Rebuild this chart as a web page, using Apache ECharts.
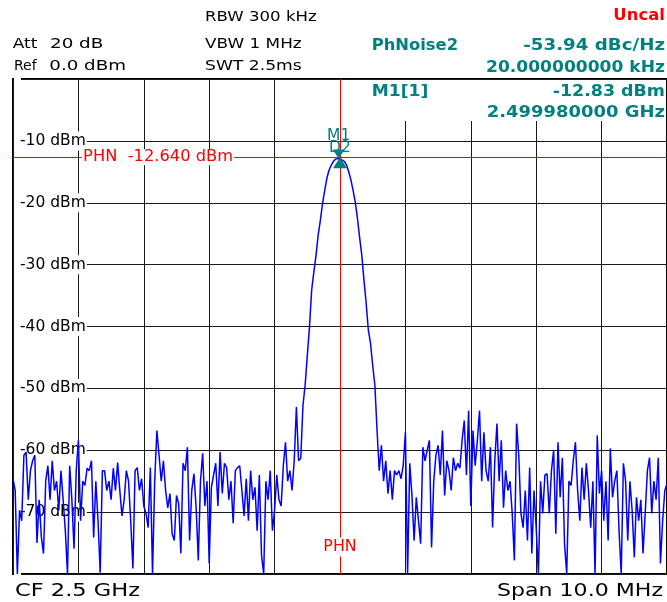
<!DOCTYPE html>
<html>
<head>
<meta charset="utf-8">
<script src="https://cdn.jsdelivr.net/npm/echarts@6/dist/echarts.min.js"></script>
<style>
  html, body { margin: 0; padding: 0; background: #fff; }
  #chart { width: 667px; height: 602px; }
</style>
</head>
<body>
<div id="chart"></div>
<script>
// Sweep settings: 10 MHz span centred on 2.5 GHz, frequencies in MHz
const SWEEP_START_MHZ = 2495;
const SWEEP_STOP_MHZ = 2505;

// Trace levels in dBm, one per sweep point (301 points across the span)
const levels = [
  -64.6, -66.5, -80, -69.7, -71.4,   -60.8, -60.3, -68, -63.3, -61.7,
  -60.8, -75, -68, -74, -76.7,       -65, -62.5, -68, -61.7, -66.5,
  -65, -69.7, -63.3, -68, -73,       -80, -62.5, -68, -75.9, -63.3,
  -58.4, -71.4, -65, -65.7, -62.9,   -63.3, -61.7, -74.1, -65, -71.4,
  -79.8, -63.3, -63.3, -66.5, -65,   -68, -62.9, -66.5, -62, -66.5,
  -70.6, -68, -63.3, -65, -71.4,     -79.1, -63.3, -62.8, -66.5, -64.6,
  -69, -70.2, -72.5, -62.8, -80,     -65, -56.8, -60.8, -65, -61.7,
  -66.5, -69.3, -67, -73.5, -74.6,   -67.3, -68.6, -76.7, -62.1, -63.3,
  -59.5, -74.6, -66.5, -63.8, -69.3, -77.8, -65, -60.5, -69, -65,
  -78.3, -66, -64, -62.1, -69,       -60.3, -67, -62.1, -62.8, -68,
  -65, -71.8, -63.3, -62.8, -62.5,   -66.5, -70.6, -64.6, -71.4, -63.3,
  -68, -66, -73, -64, -77,           -80, -65, -68, -63.3, -73,
  -69.7, -64, -68, -69, -62.5,       -58.7, -65, -63.3, -66.5, -61.7,
  -53, -61.7, -61.3, -52.8, -49.5,   -44.7, -40.1, -34.1, -31.2, -28.5,
  -25.2, -22.8, -20.1, -18, -16,     -14.7, -13.9, -13.3, -12.95, -12.87,
  -12.83, -13.1, -13.3, -13.9, -15,  -16.3, -18, -19.9, -22.5, -25.6,
  -28.5, -32.5, -36.2, -40.6, -42.7, -46.3, -49.5, -56.8, -63.3, -59.2,
  -65, -61.7, -67, -63.3, -68,       -63.3, -64, -63.3, -64.6, -62.5,
  -57.1, -80, -62.1, -67.3, -74.6,   -67.6, -71.4, -75.1, -59.5, -61.7,
  -60, -58.4, -75.7, -65, -60.8,     -59.2, -64, -56.8, -67.3, -61.7,
  -63.3, -66.5, -61.2, -63.3, -62.1, -62.9, -58.4, -55.2, -64, -53.6,
  -69, -56.8, -62.5, -58.4, -53.6,   -65, -57.1, -63.3, -65, -59.5,
  -72.5, -61.7, -55.7, -65, -58.4,   -69.3, -63.3, -66.5, -65, -70.2,
  -77.8, -55.7, -60.8, -70.2, -72.5, -66.5, -74.6, -62.8, -76.7, -66.5,
  -72.5, -80, -65, -70.2, -64,       -63.8, -70.2, -63.3, -60, -73.5,
  -58.7, -67.6, -61.2, -75.1, -80,   -65, -65.7, -61.7, -58.7, -66.5,
  -71.4, -62.8, -68, -62.1, -66.5,   -72.5, -65, -80, -57.6, -67,
  -63.3, -71.4, -65, -74.6, -59.7,   -67.6, -65, -63.3, -73, -80,
  -62.1, -65, -74.6, -65, -69.7,     -77.3, -67.6, -71.4, -68, -76.7,
  -70.2, -63.3, -61.2, -70.2, -65,   -68, -61.2, -78.3, -71.4, -66.5,
  -65.4
];

// Level axis: reference 0 dBm, 10 dB per division
const LEVEL_MIN = -80;
const LEVEL_MAX = 0;
const LEVEL_STEP = 10;
const levelTickLabels = ['-10 dBm', '-20 dBm', '-30 dBm', '-40 dBm', '-50 dBm', '-60 dBm', '-70 dBm'];

// Markers
const M1_FREQ_MHZ = 2499.98;
const M1_LEVEL_DBM = -12.83;
const PHN_FREQ_MHZ = 2500;
const PHN_LEVEL_DBM = -12.64;
const PHNOISE_DBC = -53.94;
const PHNOISE_OFFSET = '20.000000000 kHz';

// Instrument settings shown in the header and footer
const settingsLeft = [['Att', '20 dB'], ['Ref', '0.0 dBm']];
const settingsMid = ['RBW 300 kHz', 'VBW 1 MHz', 'SWT 2.5ms'];
const footer = ['CF 2.5 GHz', 'Span 10.0 MHz'];

const FONT = '"DejaVu Sans"';
const TEAL = '#008080';
const RED = '#ff0000';
const GRID = { left: 13, top: 79, width: 654, height: 495 };

const chart = echarts.init(document.getElementById('chart'));

const step = (SWEEP_STOP_MHZ - SWEEP_START_MHZ) / (levels.length - 1);
const trace = levels.map((v, i) => [SWEEP_START_MHZ + i * step, v]);

// Horizontal stretch so each readout spans its slot
const measureCtx = document.createElement('canvas').getContext('2d');
function fitScale(text, font, width) {
  measureCtx.font = font;
  return width / measureCtx.measureText(text).width;
}
function readout(text, o) {
  const font = (o.bold ? 'bold ' : '') + o.size + 'px ' + FONT;
  const sx = o.width ? fitScale(text, font, o.width) : 1;
  const style = {
    text: text, font: font, fill: o.color || '#000',
    textAlign: o.align || 'left', align: o.align || 'left',
    textVerticalAlign: 'middle', verticalAlign: 'middle'
  };
  if (o.bg) { style.backgroundColor = o.bg; style.padding = o.pad || 0; }
  return { type: 'text', x: o.x, y: o.y, scaleX: sx, z: 10, silent: true, style: style };
}

chart.setOption({
  animation: false,
  backgroundColor: '#fff',
  grid: Object.assign({
    show: true, borderColor: '#000', borderWidth: 2, backgroundColor: 'transparent',
    containLabel: false, outerBoundsMode: 'none'
  }, GRID),
  xAxis: {
    type: 'value', min: SWEEP_START_MHZ, max: SWEEP_STOP_MHZ, interval: 1, z: 0,
    axisLine: { show: false }, axisTick: { show: false }, axisLabel: { show: false },
    splitLine: { show: true, lineStyle: { color: '#1a1a1a', width: 1 } }
  },
  yAxis: {
    type: 'value', min: LEVEL_MIN, max: LEVEL_MAX, interval: LEVEL_STEP, z: 1,
    axisLine: { show: false }, axisTick: { show: false },
    splitLine: { show: true, lineStyle: { color: '#1a1a1a', width: 1 } },
    axisLabel: {
      inside: true, margin: 1,
      fontFamily: 'DejaVu Sans', fontSize: 15.5, color: '#000',
      backgroundColor: '#fff', padding: [2, 1, 1, 6],
      formatter: function (v) {
        const k = Math.round(-v / LEVEL_STEP) - 1;
        return (k >= 0 && k < levelTickLabels.length) ? levelTickLabels[k] : '';
      }
    }
  },
  series: [{
    type: 'line', data: trace, showSymbol: false, z: 3,
    lineStyle: { color: '#0000ff', width: 1.5 },
    markLine: {
      silent: true, symbol: 'none', animation: false,
      lineStyle: { color: RED, width: 1, type: 'solid' },
      label: { show: false },
      data: [{ yAxis: PHN_LEVEL_DBM }, { xAxis: PHN_FREQ_MHZ }]
    },
    markPoint: {
      silent: true, animation: false,
      itemStyle: { color: TEAL },
      label: { color: TEAL, fontFamily: 'DejaVu Sans', fontSize: 15.5 },
      data: [
        { coord: [M1_FREQ_MHZ, M1_LEVEL_DBM], symbol: 'triangle', symbolRotate: 180,
          symbolSize: [12, 9], symbolOffset: [0, -4.5],
          label: { show: true, position: 'top', distance: 5, formatter: 'M1' } },
        { coord: [PHN_FREQ_MHZ, PHN_LEVEL_DBM], symbol: 'triangle',
          symbolSize: [14, 11], symbolOffset: [0, 5.5],
          label: { show: true, position: 'top', distance: 1, formatter: 'D2' } }
      ]
    }
  }]
});

// Header, marker readouts and footer
const phnPx = chart.convertToPixel({ xAxisIndex: 0, yAxisIndex: 0 }, [PHN_FREQ_MHZ, PHN_LEVEL_DBM]);
const gridBottom = GRID.top + GRID.height;
const gridRight = GRID.left + GRID.width;

const graphics = [
  // readout panel over the upper right of the diagram
  { type: 'rect', z: 5, silent: true, shape: { x: 343, y: GRID.top + 1, width: gridRight - 345, height: 41 },
    style: { fill: '#fff' } },

  readout(settingsMid[0], { x: 205, y: 17, size: 14.5, width: 111.7 }),
  readout(settingsLeft[0][0], { x: 12.7, y: 44, size: 14.5, width: 24.6 }),
  readout(settingsLeft[0][1], { x: 50, y: 44, size: 14.5, width: 53.3 }),
  readout(settingsMid[1], { x: 205, y: 44, size: 14.5, width: 96.7 }),
  readout(settingsLeft[1][0], { x: 14, y: 66.5, size: 14.5, width: 22.7 }),
  readout(settingsLeft[1][1], { x: 49.3, y: 66.5, size: 14.5, width: 76.7 }),
  readout(settingsMid[2], { x: 205, y: 66.5, size: 14.5, width: 96.7 }),

  readout('Uncal', { x: 665, y: 16, size: 15.5, bold: true, color: RED, align: 'right', width: 51.7 }),
  readout('PhNoise2', { x: 371.7, y: 46, size: 15.5, bold: true, color: TEAL, width: 86.3 }),
  readout(PHNOISE_DBC.toFixed(2) + ' dBc/Hz', { x: 665, y: 46, size: 15.5, bold: true, color: TEAL, align: 'right', width: 141.7 }),
  readout(PHNOISE_OFFSET, { x: 665, y: 68, size: 15.5, bold: true, color: TEAL, align: 'right', width: 179 }),
  readout('M1[1]', { x: 371.7, y: 92, size: 15.5, bold: true, color: TEAL, width: 56.7 }),
  readout(M1_LEVEL_DBM.toFixed(2) + ' dBm', { x: 665, y: 92, size: 15.5, bold: true, color: TEAL, align: 'right', width: 112.3 }),
  readout((M1_FREQ_MHZ / 1000).toFixed(9) + ' GHz', { x: 665, y: 113, size: 15.5, bold: true, color: TEAL, align: 'right', width: 178.3 }),

  // phase-noise reference line labels
  readout('PHN  ' + PHN_LEVEL_DBM.toFixed(3) + ' dBm', { x: GRID.left + 69, y: phnPx[1], size: 15, color: RED,
    width: 150, bg: '#fff', pad: [1, 1, 0, 1] }),
  readout('PHN', { x: phnPx[0], y: gridBottom - 27, size: 15, color: RED, align: 'center',
    width: 33.3, bg: '#fff', pad: [2, 1, 2, 1] }),

  readout(footer[0], { x: 15, y: 591.5, size: 17.4, width: 125 }),
  readout(footer[1], { x: 663, y: 591.5, size: 17.4, align: 'right', width: 166 })
];

chart.setOption({ graphic: { elements: graphics } });
</script>
</body>
</html>
